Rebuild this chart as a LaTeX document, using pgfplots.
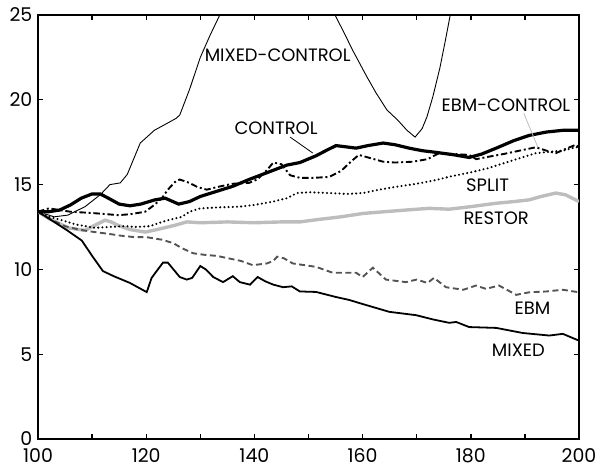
\documentclass[border=0pt]{standalone}
\usepackage{fontspec}
\setmainfont{Poppins}
\usepackage{pgfplots}
\pgfplotsset{compat=1.18}
\definecolor{restorgray}{gray}{0.74}
\definecolor{ebmgray}{gray}{0.33}
\begin{document}
\begin{tikzpicture}
\begin{axis}[
  scale only axis, width=541bp, height=424bp,
  xmin=100, xmax=200, ymin=0, ymax=25,
  xtick={100,120,...,200}, minor xtick={110,130,...,190},
  ytick={0,5,...,25},
  tick align=inside, major tick length=5bp, minor tick length=5bp,
  axis line style={line width=1.8pt},
  tick style={line width=1.4pt, black},
  tick label style={font=\fontsize{19}{19}\selectfont, inner sep=0.5bp},
  /pgf/number format/assume math mode=true,
  xticklabel style={yshift=-9bp},
  yticklabel style={xshift=-5bp},
]
\coordinate (ll) at (rel axis cs:0,0);
% MIXED-CONTROL (thin)
\addplot[black, line width=0.9pt] coordinates {(100,13.4)(103,13.1)(105.5,13.2)(108.7,13.7)(111.5,14.4)(113.3,15.0)(115.2,15.1)(116.5,15.6)(118.9,17.45)(121.5,18.2)(123.8,18.6)(125.5,18.9)(126.2,19.1)(128,20.6)(130,22.5)(131.8,23.8)(133.6,25)(134.5,26)};
\addplot[black, line width=0.9pt] coordinates {(154.2,26)(154.9,25)(156.5,24)(158.2,22.9)(160.8,21.35)(162.5,20.4)(164.5,19.4)(166.5,18.8)(168.2,18.2)(169.7,17.8)(171,18.3)(171.9,19.0)(173,20.2)(174.3,21.9)(175.3,23.5)(176.2,25)(176.8,26)};
% RESTOR (thick gray)
\addplot[restorgray, line width=3.4pt] coordinates {(100,13.4)(102,13.0)(104,12.7)(105.5,12.45)(108.7,12.3)(110.5,12.6)(112.4,12.9)(113.5,12.8)(114.8,12.6)(117,12.35)(119.8,12.2)(122,12.35)(125.3,12.6)(127.5,12.8)(130,12.75)(135,12.8)(140,12.75)(145,12.8)(148.4,12.8)(152,12.95)(156,13.1)(160.1,13.3)(164,13.4)(168,13.5)(172.3,13.6)(176,13.55)(180,13.7)(184.7,13.9)(188,14.0)(190.8,14.1)(193,14.3)(195.7,14.5)(197.5,14.4)(200,14.0)};
% EBM (dashed dark gray)
\addplot[ebmgray, line width=1.9pt, dash pattern=on 6pt off 3.5pt] coordinates {(100,13.4)(102,13.0)(105,12.55)(107.5,12.35)(110.5,12.2)(113,12.1)(115,12.0)(117.9,11.9)(120.1,11.9)(122.9,11.75)(125,11.55)(126.6,11.25)(128.7,10.95)(131,10.85)(133,10.8)(136,10.6)(137.5,10.5)(139.7,10.25)(142.3,10.35)(143.5,10.5)(144.2,10.75)(145.5,10.65)(147.1,10.35)(151.4,10.15)(154.5,9.8)(158.8,9.8)(160,9.55)(161.9,10.1)(164.3,9.4)(168,9.25)(170,9.4)(172,9.2)(173.2,9.5)(175.4,8.95)(178.6,8.8)(181,9.05)(182.8,8.85)(185.2,9.05)(188.4,8.5)(190.8,8.65)(194,8.7)(197,8.8)(200,8.65)};
% MIXED (solid)
\addplot[black, line width=1.8pt] coordinates {(100,13.4)(102,13.0)(105.4,12.3)(108.1,11.7)(110,10.8)(112,9.9)(114,9.6)(117,9.2)(120.1,8.66)(121,9.5)(123.1,10.4)(124,10.4)(126.2,9.55)(127.5,9.4)(128.5,9.5)(130,10.2)(131,10.0)(132.4,9.55)(134.2,9.25)(136,9.6)(137.3,9.25)(139.2,9.1)(140.6,9.55)(142,9.3)(143.5,9.1)(145.3,8.95)(146.9,9.0)(148.4,8.7)(151.4,8.67)(155.1,8.37)(157.5,8.2)(160.1,7.95)(164.9,7.5)(169.9,7.3)(173,7.05)(176,6.85)(177.3,6.9)(179.7,6.6)(184.7,6.55)(189.6,6.25)(194.5,6.1)(197,6.2)(200,5.8)};
% SPLIT (dotted)
\addplot[black, line width=2.3pt, line cap=round, dash pattern=on 0pt off 4.2pt] coordinates {(100,13.4)(102,13.1)(104.4,12.9)(107,12.65)(110.5,12.45)(113,12.5)(116.1,12.55)(118,12.5)(120.7,12.55)(122,12.7)(124,12.9)(126.6,13.1)(128,13.4)(130,13.6)(133,13.65)(137.3,13.7)(140,13.8)(143.5,14.0)(146,14.2)(147.9,14.5)(150,14.55)(153.8,14.5)(157,14.45)(160.1,14.5)(163,14.7)(166.2,14.87)(170,15.05)(173.6,15.27)(176.5,15.5)(179.7,15.7)(183,15.95)(186,16.25)(189,16.55)(192,16.85)(195,16.95)(197,17.0)(199.4,17.2)(200,17.2)};
% EBM-CONTROL (dash-dot)
\addplot[black, line width=1.9pt, dash pattern=on 6.5pt off 2.8pt on 2pt off 2.8pt] coordinates {(100,13.4)(102,13.6)(104,13.5)(106,13.4)(108.7,13.35)(111,13.3)(114.8,13.2)(117,13.25)(119.8,13.4)(121.5,13.8)(122.9,14.2)(124,14.7)(125.3,15.15)(126.2,15.3)(128,15.1)(129.5,14.85)(131.2,14.7)(133,14.85)(136,15.05)(139,15.1)(140.5,15.3)(142.3,15.85)(143.5,16.3)(145,16.2)(146.6,15.55)(148.4,15.4)(151,15.4)(153.8,15.45)(156,15.8)(158,16.4)(159.3,16.75)(161,16.6)(163.8,16.35)(166,16.3)(169.3,16.35)(172,16.5)(174.1,16.85)(177,16.8)(179.7,16.75)(181,16.5)(183.4,16.65)(186,16.8)(189,17.0)(192,17.2)(194,17.0)(195.7,16.85)(197.5,17.1)(199.4,17.35)(200,17.2)};
% CONTROL (thick)
\addplot[black, line width=3.2pt] coordinates {(100,13.4)(102,13.4)(104,13.5)(106,13.8)(108,14.2)(110,14.45)(111.5,14.45)(113,14.2)(115,13.85)(117,13.75)(119,13.85)(121.6,14.1)(123.5,14.2)(126,13.85)(128,14.0)(130,14.3)(133,14.6)(136,14.9)(139,15.3)(142.3,15.7)(146,16.15)(148.4,16.3)(151.4,16.7)(153.5,17.05)(155.1,17.3)(158.8,17.15)(161,17.3)(163.8,17.45)(166,17.35)(168.6,17.15)(171,17.0)(173.6,16.9)(177,16.75)(179.7,16.6)(182,16.8)(184.7,17.15)(188,17.6)(190.8,17.9)(194,18.1)(197,18.2)(200,18.2)};
% leader lines
\addplot[black, line width=0.8pt] coordinates {(146.6,17.8)(150.8,16.86)};
\addplot[restorgray, line width=0.8pt] coordinates {(189.8,19.2)(192.4,17.2)};
% labels
\node[font=\fontsize{18}{18}\selectfont, inner sep=0pt] at (axis cs:144.3,22.64) {MIXED-CONTROL};
\node[font=\fontsize{18}{18}\selectfont, inner sep=0pt] at (axis cs:144.0,18.34) {CONTROL};
\node[font=\fontsize{18}{18}\selectfont, inner sep=0pt] at (axis cs:186.5,19.7) {EBM-CONTROL};
\node[font=\fontsize{18}{18}\selectfont, inner sep=0pt] at (axis cs:183.1,14.98) {SPLIT};
\node[font=\fontsize{18}{18}\selectfont, inner sep=0pt] at (axis cs:184.7,13.03) {RESTOR};
\node[font=\fontsize{18}{18}\selectfont, inner sep=0pt] at (axis cs:191.4,7.72) {EBM};
\node[font=\fontsize{18}{18}\selectfont, inner sep=0pt] at (axis cs:188.8,5.25) {MIXED};
\end{axis}
\pgfresetboundingbox
\path (ll) ++(-38bp,-29bp) rectangle ++(596bp,468bp);
\end{tikzpicture}
\end{document}
